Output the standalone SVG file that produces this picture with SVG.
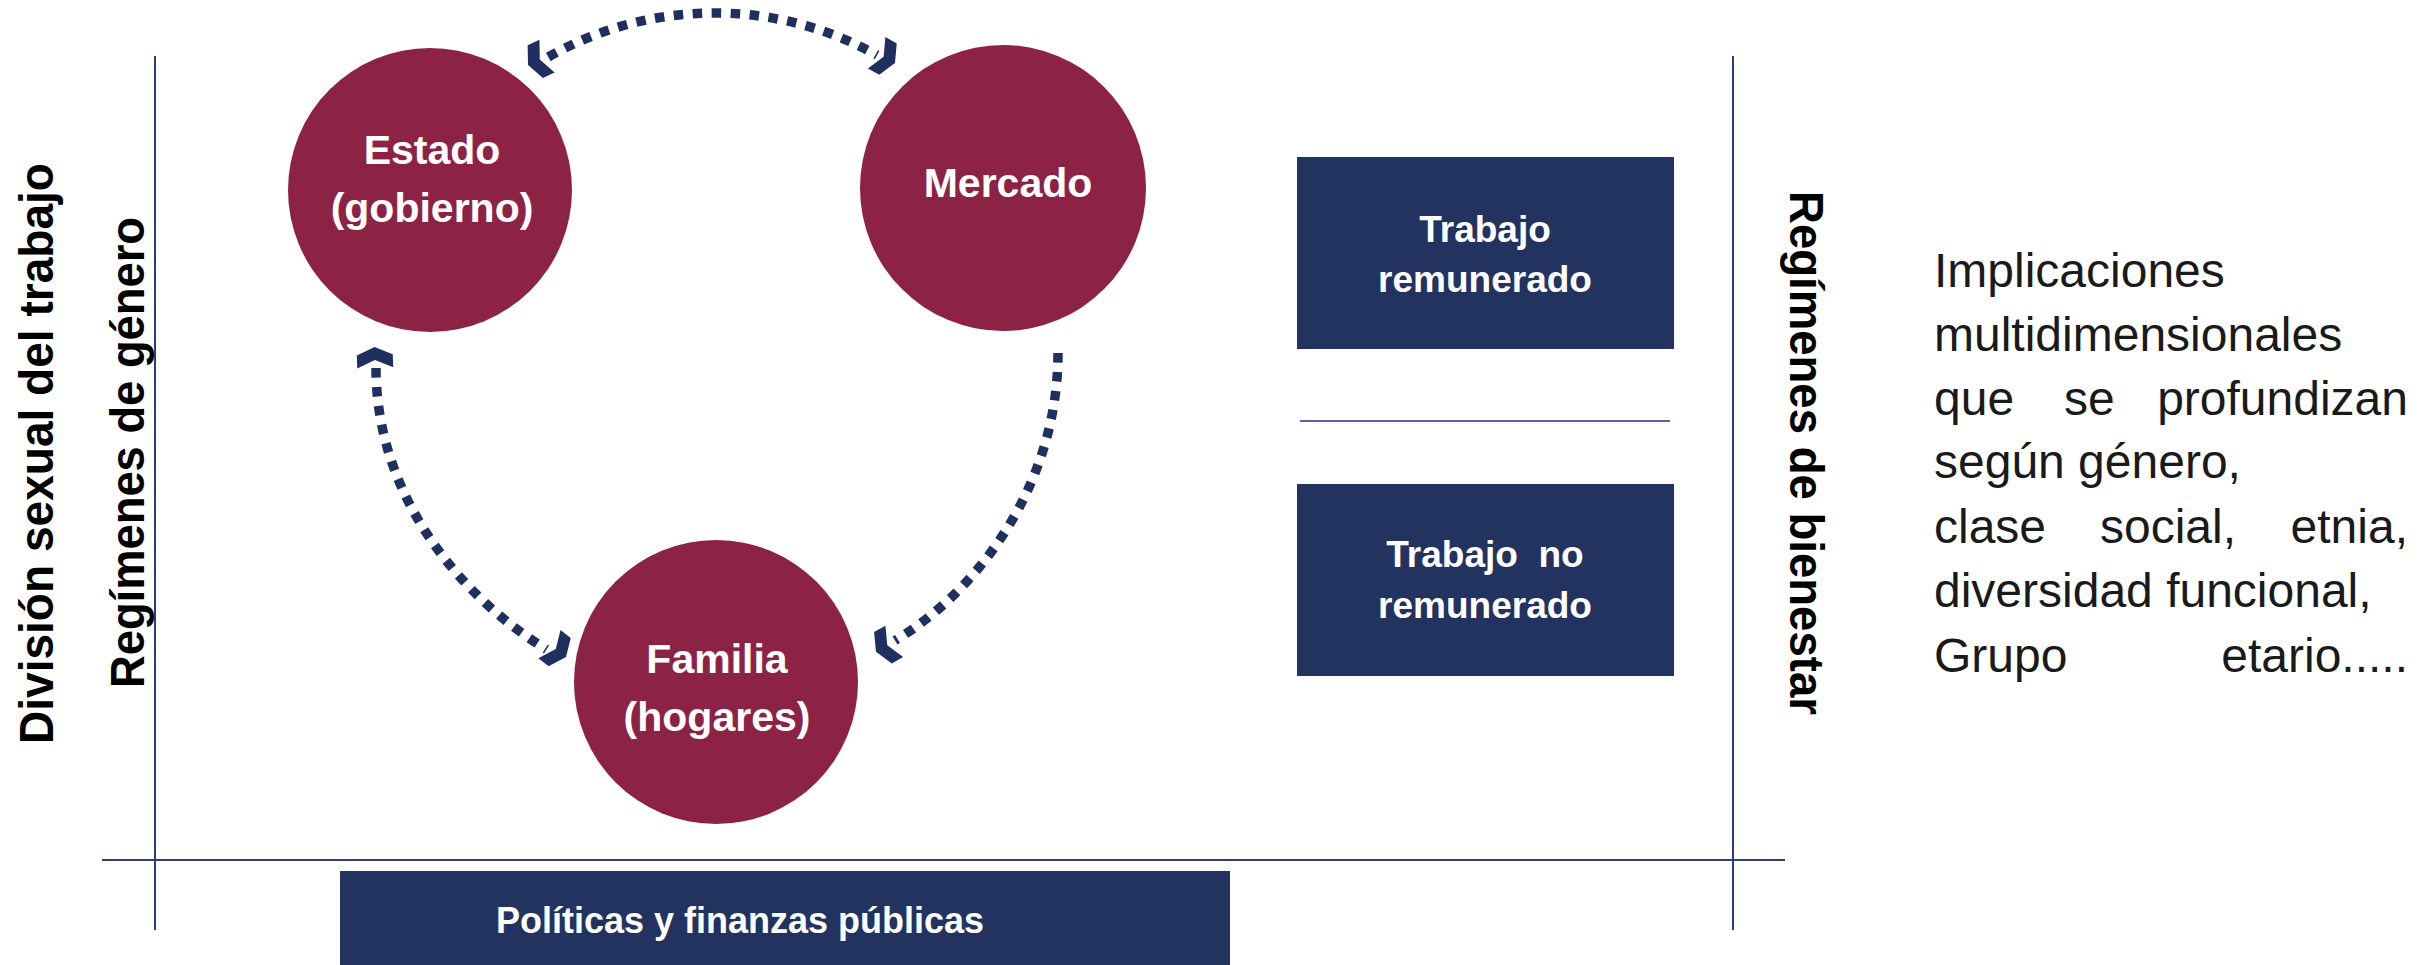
<svg xmlns="http://www.w3.org/2000/svg" width="2430" height="965" viewBox="0 0 2430 965">
  <style>
    .circ { fill: #8C2345; }
    .box { fill: #22335F; }
    .lbl { font-family: "Liberation Sans", Arial, sans-serif; font-weight: bold; fill: #FFFFFF; text-anchor: middle; }
    .side { font-family: "Liberation Sans", Arial, sans-serif; font-weight: bold; fill: #000000; text-anchor: middle; }
    .para { font-family: "Liberation Sans", Arial, sans-serif; font-size: 48px; fill: #1A1A1A; }
    .axis { stroke: #2E3C78; stroke-width: 2; fill: none; }
    .sep { stroke: #5565A0; stroke-width: 2; fill: none; }
    .dots { fill: none; stroke: #1F3060; stroke-width: 9.5; stroke-dasharray: 9.5 9.5; }
    .chev { fill: #1F3060; }
  </style>
  <defs>
    <path id="chev" d="M0,0 L-8,18 L-21,18 L-13,0 L-21,-18 L-8,-18 Z"/>
  </defs>

  <rect x="0" y="0" width="2430" height="965" fill="#FFFFFF"/>

  <g id="axes">
    <line class="axis" x1="155" y1="56" x2="155" y2="930"/>
    <line class="axis" x1="1733" y1="56" x2="1733" y2="930"/>
    <line class="axis" x1="102" y1="860" x2="1785" y2="860"/>
    <line class="sep" x1="1300" y1="421" x2="1670" y2="421"/>
  </g>

  <g id="label-division">
    <text class="side" font-size="48" transform="translate(53,453.5) rotate(-90)" textLength="581" lengthAdjust="spacingAndGlyphs">División sexual del trabajo</text>
  </g>
  <g id="label-regimenes-genero">
    <text class="side" font-size="48" transform="translate(144,452.5) rotate(-90)" textLength="471" lengthAdjust="spacingAndGlyphs">Regímenes de género</text>
  </g>
  <g id="label-regimenes-bienestar">
    <text class="side" font-size="48" transform="translate(1790,453) rotate(90)" textLength="524" lengthAdjust="spacingAndGlyphs">Regímenes de bienestar</text>
  </g>

  <g id="connectors">
    <path class="dots" d="M548.3,57 A335,335 0 0 1 877.1,55.2"/>
    <use href="#chev" class="chev" transform="translate(528,65) rotate(155)"/>
    <use href="#chev" class="chev" transform="translate(895,63) rotate(29)"/>

    <path class="dots" d="M376,368 C376,493 457,594.4 546.5,649.5"/>
    <use href="#chev" class="chev" transform="translate(374.5,347) rotate(-92)"/>
    <use href="#chev" class="chev" transform="translate(566,657) rotate(38)"/>

    <path class="dots" d="M1058,353 C1058,483 980,589.6 895,640.5"/>
    <use href="#chev" class="chev" transform="translate(876,651.7) rotate(150.5)"/>
  </g>

  <g id="node-estado">
    <circle class="circ" cx="430" cy="190" r="142"/>
    <text class="lbl" font-size="41" x="432" y="164">Estado</text>
    <text class="lbl" font-size="41" x="432" y="222">(gobierno)</text>
  </g>

  <g id="node-mercado">
    <circle class="circ" cx="1003" cy="188" r="143"/>
    <text class="lbl" font-size="41" x="1008" y="197">Mercado</text>
  </g>

  <g id="node-familia">
    <circle class="circ" cx="716" cy="682" r="142"/>
    <text class="lbl" font-size="41" x="717" y="673">Familia</text>
    <text class="lbl" font-size="41" x="717" y="731">(hogares)</text>
  </g>

  <g id="node-trabajo-remunerado">
    <rect class="box" x="1297" y="157" width="377" height="192"/>
    <text class="lbl" font-size="37" x="1485" y="242">Trabajo</text>
    <text class="lbl" font-size="37" x="1485" y="292">remunerado</text>
  </g>

  <g id="node-trabajo-no-remunerado">
    <rect class="box" x="1297" y="484" width="377" height="192"/>
    <text class="lbl" font-size="37" x="1485" y="567" xml:space="preserve" style="white-space:pre">Trabajo  no</text>
    <text class="lbl" font-size="37" x="1485" y="618">remunerado</text>
  </g>

  <g id="node-politicas">
    <rect class="box" x="340" y="871" width="890" height="100"/>
    <text class="lbl" font-size="36" x="740" y="933">Políticas y finanzas públicas</text>
  </g>

  <g id="implicaciones">
    <text class="para" x="1934" y="287">Implicaciones</text>
    <text class="para" x="1934" y="351">multidimensionales</text>
    <text class="para" x="1934" y="415">que</text>
    <text class="para" x="2064" y="415">se</text>
    <text class="para" x="2408" y="415" text-anchor="end">profundizan</text>
    <text class="para" x="1934" y="478">según género,</text>
    <text class="para" x="1934" y="543">clase</text>
    <text class="para" x="2100" y="543">social,</text>
    <text class="para" x="2408" y="543" text-anchor="end">etnia,</text>
    <text class="para" x="1934" y="607">diversidad funcional,</text>
    <text class="para" x="1934" y="672">Grupo</text>
    <text class="para" x="2408" y="672" text-anchor="end">etario.....</text>
  </g>
</svg>
